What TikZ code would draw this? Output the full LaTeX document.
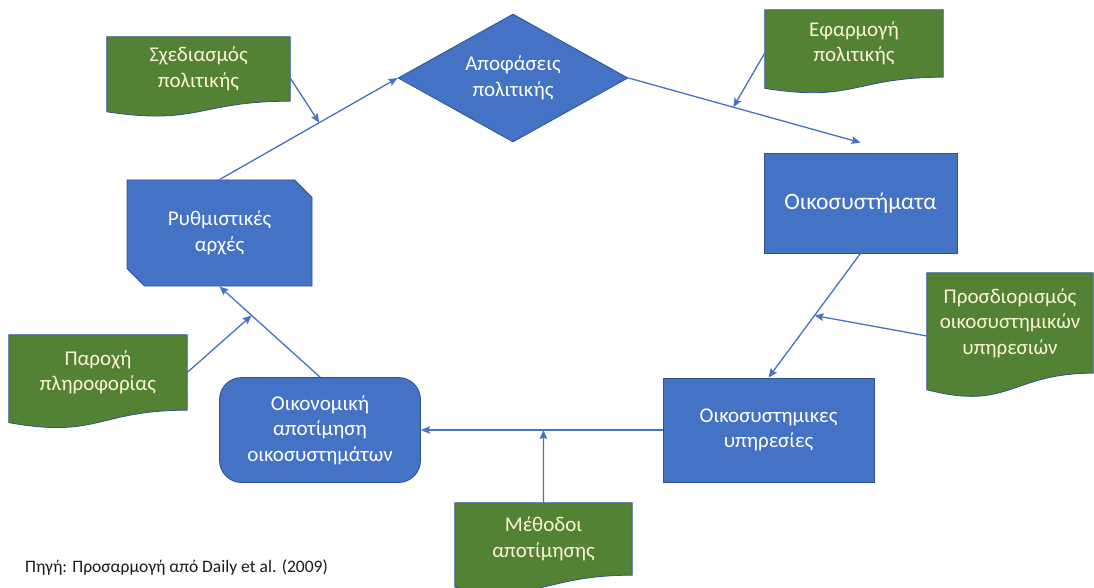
\documentclass[tikz,border=0pt]{standalone}
\usepackage{fontspec}
\setmainfont{Carlito}
\usetikzlibrary{shapes.geometric,shapes.misc,arrows.meta,calc}
\pgfdeclarelayer{background}
\pgfsetlayers{background,main}
\definecolor{oblue}{HTML}{4472C4}
\definecolor{ogreen}{HTML}{548235}
\definecolor{oline}{HTML}{2F528F}
\definecolor{cream}{HTML}{FBF3D6}
\definecolor{srcgray}{HTML}{1A1A1A}
\tikzset{
  bluebox/.style={fill=oblue, draw=oline, line width=0.8pt, text=white, align=center,
    font=\fontsize{21}{25.5}\selectfont, inner sep=0pt},
  doctext/.style={draw=none, text=cream, align=center,
    font=\fontsize{21}{25.5}\selectfont, inner sep=0pt},
  conn/.style={draw=oblue, line width=1.3pt, -{Stealth[length=9pt,width=7.5pt,inset=1.5pt]}},
}
\newcommand\docshape[1]{\fill[ogreen, draw=oline, line width=0.8pt] (#1.north west) -- (#1.north east) -- (#1.south east) .. controls (#1.south) and ($(#1.north)!1.38!(#1.south)$) .. ($(#1.north west)!1.1646!(#1.south west)$) -- cycle;}
\begin{document}
\begin{tikzpicture}[x=1pt,y=-1pt]
\useasboundingbox (0,0) rectangle (1094,588);
% document-shaped (green) labels
\node[doctext, minimum width=183pt, minimum height=64pt] (plan) at (198.5,69) {Σχεδιασμός\\πολιτικής};
\node[doctext, minimum width=178pt, minimum height=67pt] (impl) at (854,43.5) {Εφαρμογή\\πολιτικής};
\node[doctext, minimum width=166pt, minimum height=100pt] (ident) at (1010,323) {Προσδιορισμός\\οικοσυστημικών\\υπηρεσιών};
\node[doctext, minimum width=178pt, minimum height=75pt] (info) at (98,372.5) {Παροχή\\πληροφορίας};
\node[doctext, minimum width=177pt, minimum height=72pt] (meth) at (543.5,539) {Μέθοδοι\\αποτίμησης};
\begin{pgfonlayer}{background}
\docshape{plan}\docshape{impl}\docshape{ident}\docshape{info}\docshape{meth}
\end{pgfonlayer}
% blue shapes
\node[bluebox, diamond, aspect=1.8, minimum width=230pt, minimum height=128pt] (dec) at (513,78) {Αποφάσεις\\πολιτικής};
\node[bluebox, chamfered rectangle, chamfered rectangle corners={north east,south west},
  chamfered rectangle xsep=8.5pt, chamfered rectangle ysep=9pt,
  minimum width=185pt, minimum height=106pt] (reg) at (219.5,233) {Ρυθμιστικές\\αρχές};
\node[bluebox, rectangle, minimum width=193pt, minimum height=100pt, font=\fontsize{23.5}{28}\selectfont] (eco) at (860.5,203) {Οικοσυστήματα};
\node[bluebox, rectangle, minimum width=211pt, minimum height=104pt] (serv) at (768.5,430) {Οικοσυστημικες\\υπηρεσίες};
\node[bluebox, rectangle, rounded corners=22pt, minimum width=201pt, minimum height=105pt] (econ) at (320,430) {Οικονομική\\αποτίμηση\\οικοσυστημάτων};
% source
\node[anchor=west, text=srcgray, font=\fontsize{17.5}{20}\selectfont, inner sep=0pt] (src) at (25,568) {Πηγή: Προσαρμογή από Daily et al. (2009)};
% connectors
\draw[conn] (reg.north) -- coordinate[pos=0.56] (c1) (dec.west);
\draw[conn] ([yshift=-9pt]plan.east) -- (c1);
\draw[conn] (dec.east) -- coordinate[pos=0.452] (c3) ([yshift=10pt]eco.north);
\draw[conn] ([yshift=-9.5pt]impl.west) -- (c3);
\draw[conn] (eco.south) -- coordinate[pos=0.5] (c4) (serv.north);
\draw[conn] ([yshift=-13pt]ident.west) -- (c4);
\draw[conn] (serv.west) -- coordinate[pos=0.493] (c6) (econ.east);
\draw[conn] (meth.north) -- (c6);
\draw[conn] (econ.north) -- coordinate[pos=0.68] (c8) (reg.south);
\draw[conn] (info.east) -- (c8);
\end{tikzpicture}
\end{document}
